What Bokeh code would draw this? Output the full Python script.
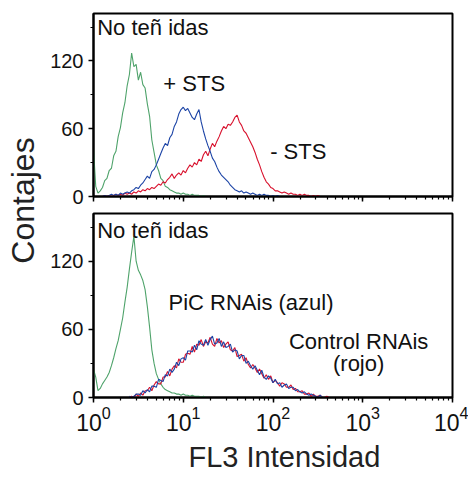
import numpy as np
from bokeh.plotting import figure
from bokeh.models import FixedTicker, Label, CustomJSTickFormatter, Range1d, Title
from bokeh.layouts import row, column
from bokeh.embed import file_html
from bokeh.resources import INLINE

# ---------------- data ----------------
STEP = 0.025  # channel width, in decades (log10 units)

# top panel
top_green_start = 0.0
top_green = [42, 9, 3, 5, 8, 14, 16, 23, 25, 36, 40, 53, 61, 74, 83, 98, 108, 127, 115, 117,
             103, 110, 99, 96, 82, 71, 50, 39, 28, 23, 16, 14, 9, 8, 6, 5, 4, 3, 3, 2,
             3, 2, 2, 1, 2, 1, 1, 1, 0, 1, 0, 0]
top_blue_start = 0.1
top_blue = [0, 1, 0, 1, 2, 1, 2, 1, 3, 2, 3, 4, 3, 5, 6, 8, 7, 10, 12, 15,
            18, 16, 22, 24, 28, 33, 38, 43, 47, 45, 52, 55, 62, 66, 73, 77, 79, 76, 78, 74,
            70, 68, 73, 77, 66, 58, 51, 45, 40, 34, 31, 26, 22, 19, 17, 15, 13, 10, 8, 6,
            5, 4, 5, 3, 4, 3, 2, 3, 2, 1, 2, 1, 2, 1, 1, 0, 1, 0, 1, 0, 0]
top_red_start = 0.1
top_red = [0, 1, 0, 1, 0, 1, 2, 1, 2, 1, 3, 2, 3, 2, 4, 3, 5, 4, 6, 5,
           7, 6, 8, 7, 9, 11, 10, 13, 12, 15, 17, 20, 16, 19, 21, 19, 23, 21, 25, 28,
           26, 30, 28, 33, 31, 37, 40, 36, 42, 47, 44, 49, 53, 58, 62, 60, 64, 63, 66, 70,
           72, 66, 63, 58, 56, 52, 48, 44, 39, 33, 28, 22, 17, 13, 11, 8, 7, 5, 5, 4,
           3, 4, 3, 2, 3, 2, 2, 1, 2, 1, 2, 1, 1, 0, 1, 0, 1, 0, 0]

# bottom panel
bot_green_start = 0.0
bot_green = [25, 18, 6, 8, 12, 15, 18, 22, 28, 35, 43, 50, 60, 70, 84, 97, 113, 128, 142, 120,
             112, 108, 103, 95, 80, 62, 42, 30, 21, 16, 12, 9, 7, 6, 5, 4, 4, 3, 3, 2,
             3, 2, 2, 1, 2, 1, 1, 1, 0, 1, 0]
bot_red_start = 0.4
bot_red = [0, 1, 0, 3, 1, 4, 2, 6, 6, 9, 6, 11, 14, 12, 12, 18, 18, 23, 19, 25,
           28, 26, 34, 31, 31, 38, 39, 38, 45, 40, 47, 46, 51, 45, 49, 48, 53, 47, 45, 52,
           48, 50, 44, 47, 49, 42, 41, 44, 36, 37, 38, 32, 35, 29, 26, 29, 26, 22, 25, 21,
           17, 20, 16, 19, 13, 15, 13, 10, 13, 12, 9, 9, 11, 7, 8, 5, 5, 6, 3, 3,
           4, 1, 3, 1, 1, 2, 0, 0, 1, 0]
bot_blue_start = 0.4
bot_blue = [1, 0, 1, 3, 3, 2, 6, 4, 7, 5, 10, 10, 9, 16, 15, 14, 20, 19, 25, 22,
            25, 31, 28, 34, 35, 33, 41, 41, 40, 46, 42, 50, 47, 46, 51, 46, 51, 54, 47, 48,
            52, 45, 49, 44, 45, 47, 40, 42, 41, 34, 37, 37, 30, 32, 28, 25, 28, 24, 20, 24,
            18, 16, 19, 17, 13, 16, 12, 13, 9, 11, 12, 8, 9, 9, 6, 7, 5, 4, 5, 3,
            2, 3, 2, 1, 0, 2, 0, 0, 0, 0]

y_major = [0, 60, 120]
y_minor = [30, 90, 150]
x_limits = [1, 1e4]
y_limits = [0, 162]

top_texts = [("No teñ idas", 1.1, 150, "left"), ("+ STS", 6.0, 100, "left"), ("- STS", 93, 40, "left")]
bot_texts = [("No teñ idas", 1.1, 147, "left"), ("PiC RNAis (azul)", 6.85, 84, "left"),
             ("Control RNAis", 900, 49, "center"), ("(rojo)", 900, 30, "center")]
x_title = "FL3 Intensidad"
y_title = "Contajes"

# ---------------- style ----------------
FONT = "Liberation Sans"
GREEN = "#4fa36b"
BLUE = "#1c44a6"
RED = "#d8102c"


def chan_x(start, vals):
    return 10 ** (start + STEP * np.arange(len(vals)))


def make_panel(height, b_top, b_bottom, show_labels):
    p = figure(width=424, height=height, x_axis_type="log",
               x_range=Range1d(*x_limits), y_range=Range1d(*y_limits),
               output_backend="svg", toolbar_location=None,
               min_border_left=49, min_border_right=16,
               min_border_top=b_top, min_border_bottom=b_bottom)
    p.grid.visible = False
    p.background_fill_color = "white"
    p.border_fill_color = "white"
    p.outline_line_color = "black"
    p.outline_line_width = 2
    p.outline_line_alpha = 1
    for ax in (p.xaxis[0], p.yaxis[0]):
        ax.axis_line_width = 2
        ax.axis_line_color = "black"
        ax.major_tick_line_color = "black"
        ax.minor_tick_line_color = "black"
        ax.major_tick_line_width = 1.5
        ax.minor_tick_line_width = 1.2
        ax.major_tick_in = 0
        ax.minor_tick_in = 0
        ax.major_tick_out = 5
        ax.minor_tick_out = 3
        ax.major_label_text_font = FONT
        ax.major_label_text_font_size = "20px"
        ax.major_label_text_color = "#111111"
    p.yaxis.ticker = FixedTicker(ticks=y_major, minor_ticks=y_minor)
    p.yaxis.major_label_standoff = 5
    if show_labels:
        p.xaxis.major_label_standoff = 3
        p.xaxis.major_label_text_font_size = "23px"
    else:
        p.xaxis.formatter = CustomJSTickFormatter(code="return '';")
        p.xaxis.major_label_standoff = 0
    return p


p1 = make_panel(208, 13, 12, False)
p1.line(chan_x(top_green_start, top_green), top_green, line_color=GREEN, line_width=1.1)
p1.line(chan_x(top_red_start, top_red), top_red, line_color=RED, line_width=1.1)
p1.line(chan_x(top_blue_start, top_blue), top_blue, line_color=BLUE, line_width=1.1)
for t, x, y, al in top_texts:
    p1.add_layout(Label(x=x, y=y, text=t, text_align=al, text_baseline="middle",
                        text_font=FONT, text_font_size="22px", text_color="#111111"))

p2 = make_panel(270, 5, 80, True)
p2.line(chan_x(bot_green_start, bot_green), bot_green, line_color=GREEN, line_width=1.1)
p2.line(chan_x(bot_red_start, bot_red), bot_red, line_color=RED, line_width=1.1)
p2.line(chan_x(bot_blue_start, bot_blue), bot_blue, line_color=BLUE, line_width=1.1)
for t, x, y, al in bot_texts:
    p2.add_layout(Label(x=x, y=y, text=t, text_align=al, text_baseline="middle",
                        text_font=FONT, text_font_size="22px", text_color="#111111"))
p2.add_layout(Title(text=x_title, align="left", offset=95, standoff=11,
                    text_font=FONT, text_font_size="29px", text_font_style="normal",
                    text_color="#222222"), "below")

ylab = figure(width=44, height=478, output_backend="svg", toolbar_location=None,
              x_range=Range1d(0, 1), y_range=Range1d(0, 1), min_border=0)
ylab.axis.visible = False
ylab.grid.visible = False
ylab.outline_line_color = None
ylab.add_layout(Label(x=22, y=278, x_units="screen", y_units="screen", text=y_title,
                      angle=90, angle_units="deg", text_align="center", text_baseline="middle",
                      text_font=FONT, text_font_size="32px", text_color="#222222"))

layout = row(ylab, column(p1, p2))
open("out.html", "w").write(file_html(layout, INLINE))
